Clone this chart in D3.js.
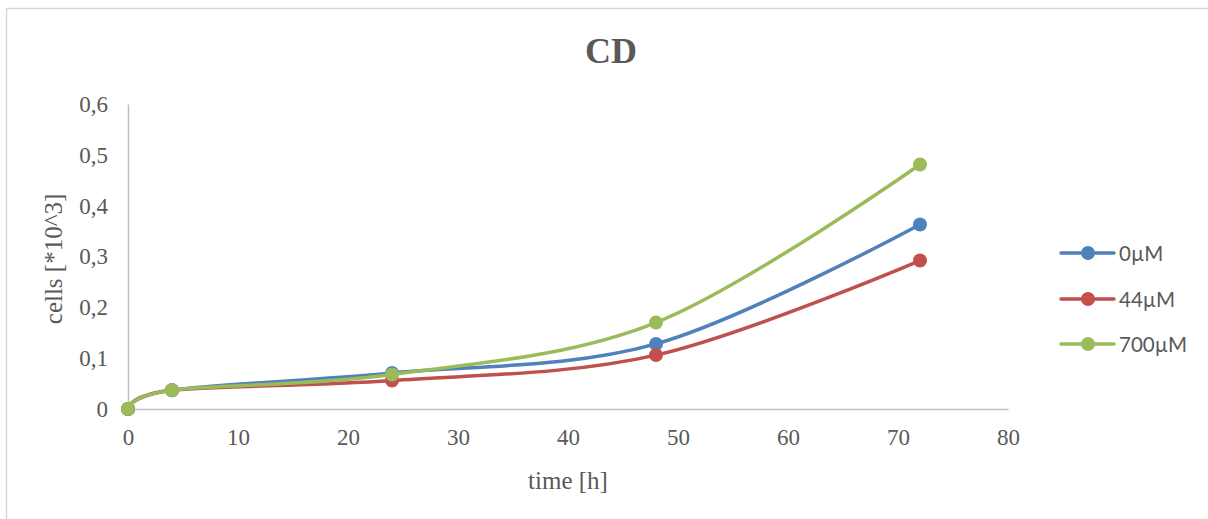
<!DOCTYPE html>
<html>
<head>
<meta charset="utf-8">
<script src="https://cdn.jsdelivr.net/npm/d3@7"></script>
<style>
  html, body { margin: 0; padding: 0; background: #fff; }
  svg { display: block; }
</style>
</head>
<body>
<script>
// Cell counts over time for three CD concentrations
const times = [0, 4, 24, 48, 72];
const seriesNames = ["0µM", "44µM", "700µM"];
const values0 = [0, 0.037, 0.071, 0.128, 0.363];
const values44 = [0, 0.037, 0.056, 0.106, 0.292];
const values700 = [0, 0.037, 0.068, 0.170, 0.481];
const xTicks = [0, 10, 20, 30, 40, 50, 60, 70, 80];
const yTicks = [0, 0.1, 0.2, 0.3, 0.4, 0.5, 0.6];
const colors = ["#4F81BD", "#C0504D", "#9BBB59"];

const W = 1208, H = 519;
const textColor = "#595959";
const serif = "'Liberation Serif', 'Times New Roman', serif";

const svg = d3.select("body").append("svg")
  .attr("width", W).attr("height", H);

// chart frame
svg.append("rect")
  .attr("x", 6.5).attr("y", 8.5)
  .attr("width", W + 10).attr("height", H + 10)
  .attr("fill", "#fff").attr("stroke", "#D9D9D9").attr("stroke-width", 1.5);

const x = d3.scaleLinear().domain([0, 80]).range([128, 1008]);
const y = d3.scaleLinear().domain([0, 0.6]).range([409, 104]);

// title
svg.append("text")
  .attr("x", 611).attr("y", 63)
  .attr("text-anchor", "middle")
  .attr("font-family", serif).attr("font-weight", "bold")
  .attr("font-size", 36).attr("fill", textColor)
  .text("CD");

const fmt = d => d3.format(".1~f")(d).replace(".", ",");

// y axis
const yAxis = svg.append("g").attr("transform", `translate(${x(0)},0)`)
  .call(d3.axisLeft(y).tickValues(yTicks).tickSize(0).tickPadding(20).tickFormat(fmt));
yAxis.select(".domain").attr("stroke", "#BFBFBF").attr("stroke-width", 1.5);
yAxis.selectAll("text")
  .attr("font-family", serif).attr("font-size", 23).attr("fill", textColor);

// x axis
const xAxis = svg.append("g").attr("transform", `translate(0,${y(0)})`)
  .call(d3.axisBottom(x).tickValues(xTicks).tickSize(0).tickPadding(20).tickFormat(d3.format("d")));
xAxis.select(".domain").attr("stroke", "#BFBFBF").attr("stroke-width", 1.5);
xAxis.selectAll("text")
  .attr("font-family", serif).attr("font-size", 23).attr("fill", textColor);

// axis titles
svg.append("text")
  .attr("x", 568).attr("y", 489)
  .attr("text-anchor", "middle")
  .attr("font-family", serif).attr("font-size", 25).attr("fill", textColor)
  .text("time [h]");

svg.append("text")
  .attr("transform", "translate(62,259) rotate(-90)")
  .attr("text-anchor", "middle")
  .attr("font-family", serif).attr("font-size", 25).attr("fill", textColor)
  .text("cells [*10^3]");

// smoothed series lines with markers
const allValues = [values0, values44, values700];
const line = d3.line()
  .x((d, i) => x(times[i]))
  .y(d => y(d))
  .curve(d3.curveCatmullRom.alpha(0));

allValues.forEach((vals, k) => {
  const g = svg.append("g");
  g.append("path")
    .datum(vals)
    .attr("d", line)
    .attr("fill", "none")
    .attr("stroke", colors[k])
    .attr("stroke-width", 3.5)
    .attr("stroke-linecap", "round");
  g.selectAll("circle").data(vals).join("circle")
    .attr("cx", (d, i) => x(times[i]))
    .attr("cy", d => y(d))
    .attr("r", 7)
    .attr("fill", colors[k]);
});

// legend
const legendRows = [253, 299, 344];
const legend = svg.append("g");
seriesNames.forEach((name, k) => {
  const yy = legendRows[k];
  legend.append("line")
    .attr("x1", 1061).attr("x2", 1114)
    .attr("y1", yy).attr("y2", yy)
    .attr("stroke", colors[k]).attr("stroke-width", 3.5)
    .attr("stroke-linecap", "round");
  legend.append("circle")
    .attr("cx", 1088).attr("cy", yy).attr("r", 7)
    .attr("fill", colors[k]);
  legend.append("text")
    .attr("x", 1119).attr("y", yy + 7.5)
    .attr("font-family", "Lato, 'Open Sans', sans-serif")
    .attr("font-size", 20.5).attr("fill", textColor)
    .text(name);
});
</script>
</body>
</html>
